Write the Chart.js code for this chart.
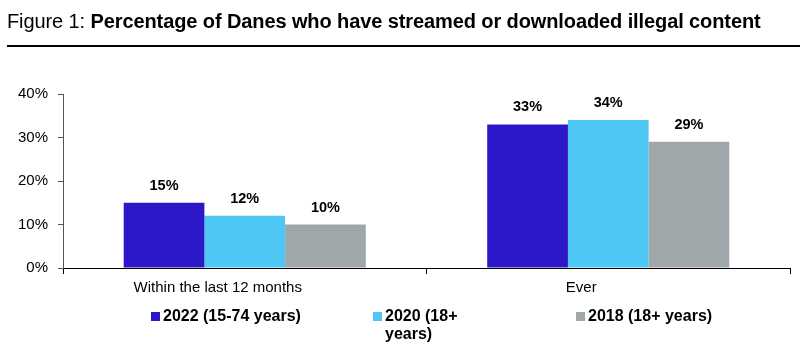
<!DOCTYPE html>
<html>
<head>
<meta charset="utf-8">
<script src="https://cdn.jsdelivr.net/npm/chart.js@4/dist/chart.umd.min.js"></script>
<style>
  html, body { margin: 0; padding: 0; background: #fff; }
  body { width: 804px; height: 360px; position: relative; overflow: hidden; font-family: "Liberation Sans", Arial, sans-serif; }
  #title { position: absolute; left: 7px; top: 10px; font-size: 20px; color: #000; white-space: nowrap; letter-spacing: -0.1px; }
  #title b { font-weight: bold; }
  #rule { position: absolute; left: 7px; top: 45px; width: 793px; height: 0; border-top: 2px solid #000; }
  #wrap { position: absolute; left: 0; top: 0; width: 804px; height: 360px; }
  .leg { position: absolute; font-size: 16px; font-weight: bold; color: #000; line-height: 18px; }
  .leg i { position: absolute; left: -12px; top: 5px; width: 9px; height: 9px; }
</style>
</head>
<body>
<div id="wrap"><canvas id="chart" width="804" height="360"></canvas></div>
<div id="title">Figure 1: <b>Percentage of Danes who have streamed or downloaded illegal content</b></div>
<div id="rule"></div>
<div id="legend"></div>
<script>
const categories = ["Within the last 12 months", "Ever"];
const seriesNames = ["2022 (15-74 years)", "2020 (18+ years)", "2018 (18+ years)"];
const values2022 = [15, 33];
const values2020 = [12, 34];
const values2018 = [10, 29];
const yTicks = [0, 10, 20, 30, 40];
const colors = ['#2C17C9', '#4FC7F4', '#A0A7AA'];

// legend built as html so the middle entry can wrap like the original
const legendPos = [
  { left: 163, top: 307, width: 150 },
  { left: 385, top: 307, width: 85 },
  { left: 588, top: 307, width: 150 }
];
const legendEl = document.getElementById('legend');
seriesNames.forEach(function(name, i) {
  const d = document.createElement('div');
  d.className = 'leg';
  d.style.left = legendPos[i].left + 'px';
  d.style.top = legendPos[i].top + 'px';
  d.style.width = legendPos[i].width + 'px';
  d.innerHTML = '<i style="background:' + colors[i] + '"></i>' + name;
  legendEl.appendChild(d);
});

const valueLabels = {
  id: 'valueLabels',
  afterDatasetsDraw(chart) {
    const ctx = chart.ctx;
    ctx.save();
    ctx.font = 'bold 14.5px "Liberation Sans", Arial, sans-serif';
    ctx.fillStyle = '#000';
    ctx.textAlign = 'center';
    ctx.textBaseline = 'middle';
    chart.data.datasets.forEach(function(ds, i) {
      chart.getDatasetMeta(i).data.forEach(function(bar, j) {
        ctx.fillText(ds.data[j] + '%', bar.x, bar.y - 17);
      });
    });
    ctx.restore();
  }
};

const ctx = document.getElementById('chart').getContext('2d');
new Chart(ctx, {
  type: 'bar',
  data: {
    labels: categories,
    datasets: [
      { label: seriesNames[0], data: values2022, backgroundColor: colors[0] },
      { label: seriesNames[1], data: values2020, backgroundColor: colors[1] },
      { label: seriesNames[2], data: values2018, backgroundColor: colors[2] }
    ]
  },
  options: {
    responsive: false,
    animation: false,
    devicePixelRatio: 1,
    layout: { padding: { left: 0, right: 14, top: 94, bottom: 62 } },
    categoryPercentage: 0.666,
    barPercentage: 1,
    plugins: {
      legend: { display: false },
      tooltip: { enabled: false }
    },
    scales: {
      x: {
        grid: { display: true, drawOnChartArea: false, offset: true, tickLength: 6, color: '#000' },
        border: { display: true, color: '#000', width: 1 },
        ticks: {
          color: '#000',
          font: { family: '"Liberation Sans", Arial, sans-serif', size: 15 },
          padding: 5,
          labelOffset: -27,
          maxRotation: 0
        },
        afterFit(scale) { scale.height = 30; }
      },
      y: {
        min: 0,
        max: 40,
        afterBuildTicks(scale) { scale.ticks = yTicks.map(function(v) { return { value: v }; }); },
        grid: { display: true, drawOnChartArea: false, tickLength: 5, color: '#555' },
        border: { display: true, color: '#555', width: 1 },
        ticks: {
          color: '#000',
          font: { family: '"Liberation Sans", Arial, sans-serif', size: 15 },
          padding: 10,
          callback: function(v) { return v + '%'; }
        },
        afterFit(scale) { scale.width = 63; }
      }
    }
  },
  plugins: [valueLabels]
});
</script>
</body>
</html>
